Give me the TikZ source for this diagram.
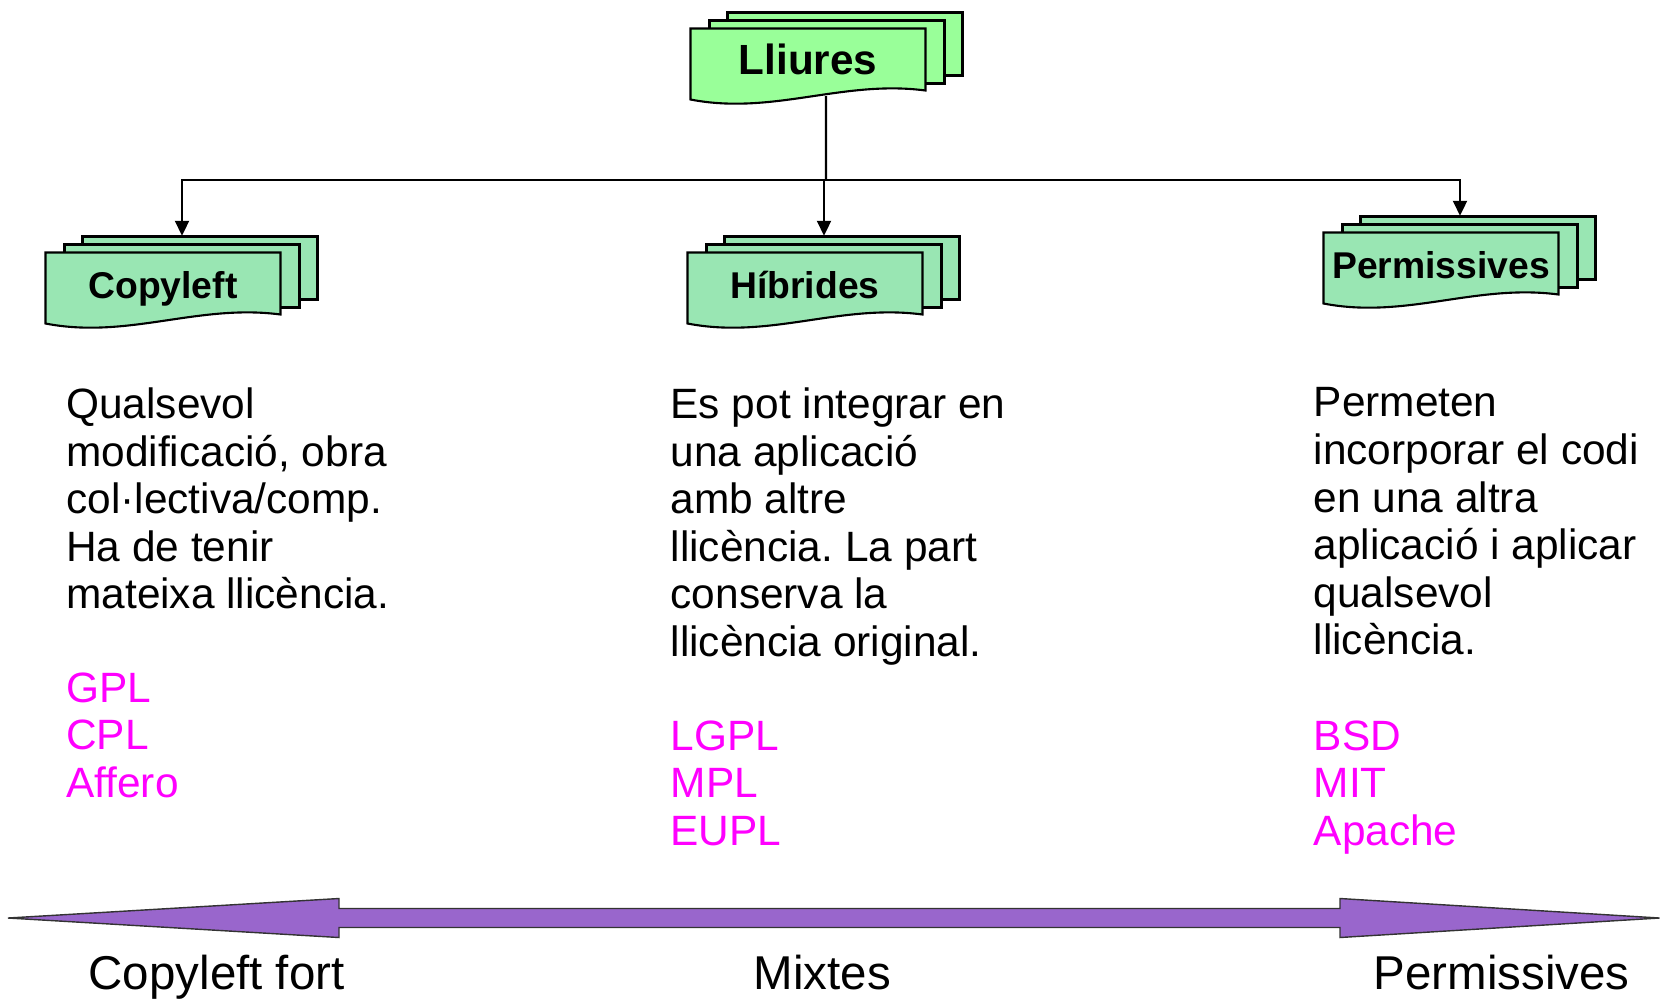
\documentclass[tikz,border=0pt]{standalone}
\usepackage{fontspec}
\setmainfont{Liberation Sans}
\usepackage{xcolor}
\usepackage{tikz}
\usetikzlibrary{arrows.meta}
\definecolor{rootgreen}{RGB}{153,255,153}
\definecolor{leafgreen}{RGB}{153,230,179}
\definecolor{licmagenta}{RGB}{255,0,255}
\definecolor{scalepurple}{RGB}{153,102,204}
\frenchspacing

\tikzset{
  docline/.style={draw=black, line width=0.6pt},
  tree/.style={draw=black, line width=0.6pt, -{Triangle[length=0.15cm, width=0.14cm]}},
  bodytext/.style={anchor=north west, inner sep=0pt, align=left, font=\fontsize{12.06}{13.54}\selectfont},
  lictext/.style={bodytext, text=licmagenta},
  scaletext/.style={anchor=base west, inner sep=0pt, font=\fontsize{13.5}{16}\selectfont}
}

% stack of three pages with a wavy bottom: name, centre, fill, font, text
\newcommand{\docstack}[5]{%
  \begin{scope}[shift={(#2)}]
    \filldraw[docline, fill=#3] (-80.5,-51.5) rectangle (154.5,11.5);
    \filldraw[docline, fill=#3] (-98.5,-43.5) rectangle (136.5,19.5);
    \filldraw[docline, fill=#3] (-117.5,-35.5) -- (117.5,-35.5) -- (117.5,26.5)
      .. controls (35,15.5) and (-35,51.5) .. (-117.5,35.5) -- cycle;
    \node[inner sep=0pt, minimum width=2.35cm, minimum height=0.71cm, text height=0.72em, text depth=0.21em, font=#4] (#1) at (0,2) {#5};
  \end{scope}}

\begin{document}
\begin{tikzpicture}[x=0.01cm, y=-0.01cm]
        \useasboundingbox (0,0) rectangle (1660,999);

        % Root and the three families
        \docstack{lliures}{808,64}{rootgreen}{\fontsize{12}{14}\selectfont\bfseries}{Lliures}
        \docstack{copyleft}{163,288}{leafgreen}{\fontsize{10.6}{13}\selectfont\bfseries}{Copyleft}
        \docstack{hibrides}{805,288}{leafgreen}{\fontsize{10.6}{13}\selectfont\bfseries}{Híbrides}
        \docstack{permissives}{1441,268}{leafgreen}{\fontsize{10.6}{13}\selectfont\bfseries}{Permissives}

        % Tree connectors
        \coordinate (bus) at (826,180);
        \coordinate (cltop) at ([xshift=0.19cm, yshift=0.18cm]copyleft.north);
        \coordinate (hbtop) at ([xshift=0.19cm, yshift=0.18cm]hibrides.north);
        \coordinate (pmtop) at ([xshift=0.19cm, yshift=0.18cm]permissives.north);
        \draw[tree, -] ([xshift=0.18cm, yshift=0.06cm]lliures.south) -- (bus);
        \draw[tree] (bus) -| (cltop);
        \draw[tree] (bus -| hbtop) -- (hbtop);
        \draw[tree] (bus) -| (pmtop);

        % Descriptions
        \node[bodytext] (desc1) at (65.6,387) {Qualsevol\\modificació, obra\\col·lectiva/comp.\\Ha de tenir\\mateixa llicència.};
        \node[bodytext] (desc2) at (670,387) {Es pot integrar en\\una aplicació\\amb altre\\llicència. La part\\conserva la\\llicència original.};
        \node[bodytext] (desc3) at (1313,387) {Permeten\\incorporar el codi\\en una altra\\aplicació i aplicar\\qualsevol\\llicència.};

        % Examples
        \node[lictext] (lic1) at (65.6,672) {GPL\\CPL\\Affero};
        \node[lictext] (lic2) at (670,720) {LGPL\\MPL\\EUPL};
        \node[lictext] (lic3) at (1313,720) {BSD\\MIT\\Apache};

        % Scale arrow
        \filldraw[fill=scalepurple, draw=black!80, line width=0.4pt]
          (8,918) -- (339,898.5) -- (339,908.5) -- (1340,908.5) -- (1340,898.5) -- (1659.5,918)
          -- (1340,937.5) -- (1340,927.5) -- (339,927.5) -- (339,937.5) -- cycle;
        \node[scaletext] (scale1) at (88,989) {Copyleft fort};
        \node[scaletext] (scale2) at (753,989) {Mixtes};
        \node[scaletext] (scale3) at (1373,989) {Permissives};
    \end{tikzpicture}
\end{document}
